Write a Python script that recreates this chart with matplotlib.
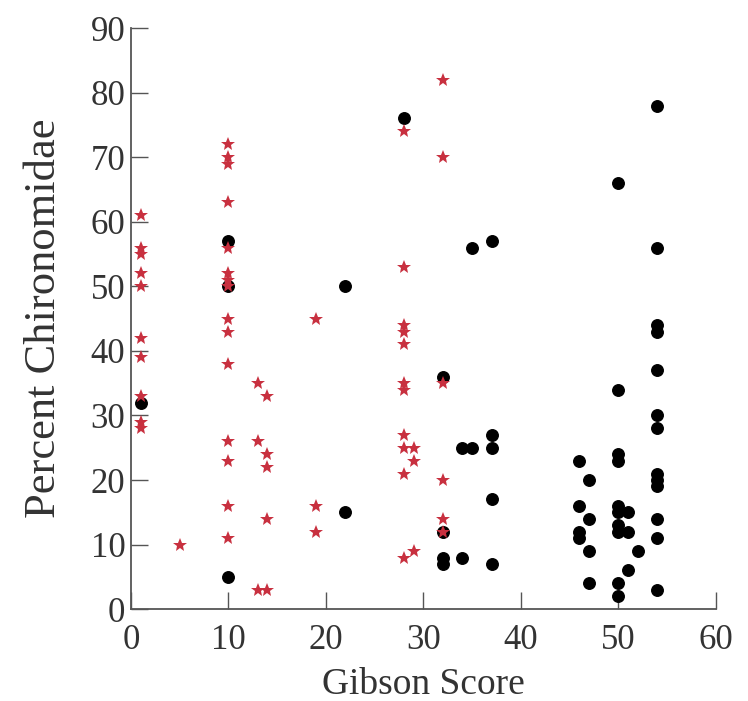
"""Scatter of percent Chironomidae against Gibson score, two site groups."""

import matplotlib

matplotlib.use("Agg")
import matplotlib.pyplot as plt

# Red stars: (Gibson score, percent Chironomidae)
star_x = (
    [1] * 10
    + [5]
    + [10] * 15
    + [13] * 3
    + [14] * 5
    + [19] * 3
    + [28] * 11
    + [29] * 3
    + [32] * 6
)
star_y = [
    61, 56, 55, 52, 50, 42, 39, 33, 29, 28,
    10,
    72, 70, 69, 63, 56, 52, 51, 50, 45, 43, 38, 26, 23, 16, 11,
    35, 26, 3,
    33, 24, 22, 14, 3,
    45, 16, 12,
    74, 53, 44, 43, 41, 35, 34, 27, 25, 21, 8,
    25, 23, 9,
    82, 70, 35, 20, 14, 12,
]

# Black circles
dot_x = (
    [1]
    + [10] * 3
    + [22] * 2
    + [28]
    + [32] * 4
    + [34] * 2
    + [35] * 2
    + [37] * 5
    + [46] * 4
    + [47] * 4
    + [50] * 10
    + [51] * 3
    + [52]
    + [54] * 13
)
dot_y = [
    32,
    57, 50, 5,
    50, 15,
    76,
    36, 12, 8, 7,
    25, 8,
    25, 56,
    57, 27, 25, 17, 7,
    23, 16, 12, 11,
    20, 14, 9, 4,
    66, 34, 24, 23, 16, 15, 13, 12, 4, 2,
    15, 12, 6,
    9,
    78, 56, 44, 43, 37, 30, 28, 21, 20, 19, 14, 11, 3,
]

X_TICKS = [0, 10, 20, 30, 40, 50, 60]
Y_TICKS = [0, 10, 20, 30, 40, 50, 60, 70, 80, 90]

plt.rcParams["font.family"] = ["Liberation Serif", "DejaVu Serif"]

fig = plt.figure(figsize=(7.48, 7.01), dpi=100)
ax = fig.add_axes([0.175, 0.131, 0.782, 0.829])

ax.plot(dot_x, dot_y, "o", color="black", markersize=8.3, linestyle="none")
ax.plot(star_x, star_y, "*", color="#c8303f", markersize=10.5,
        markeredgewidth=0, linestyle="none")

ax.set_xlim(0, 60)
ax.set_ylim(0, 90)
ax.set_xticks(X_TICKS)
ax.set_yticks(Y_TICKS)

for side in ("top", "right"):
    ax.spines[side].set_visible(False)
for side in ("left", "bottom"):
    ax.spines[side].set_color("#555555")
    ax.spines[side].set_linewidth(1.3)

ax.tick_params(axis="both", direction="in", length=12, width=1.0,
               color="#555555", labelsize=25, labelcolor="#333333")
ax.tick_params(axis="x", pad=11)
ax.tick_params(axis="y", pad=4)

ax.set_xlabel("Gibson Score", fontsize=27, color="#333333", labelpad=7)
ax.set_ylabel("Percent Chironomidae", fontsize=32, color="#333333",
              labelpad=19)

fig.savefig("out.png", dpi=100)
